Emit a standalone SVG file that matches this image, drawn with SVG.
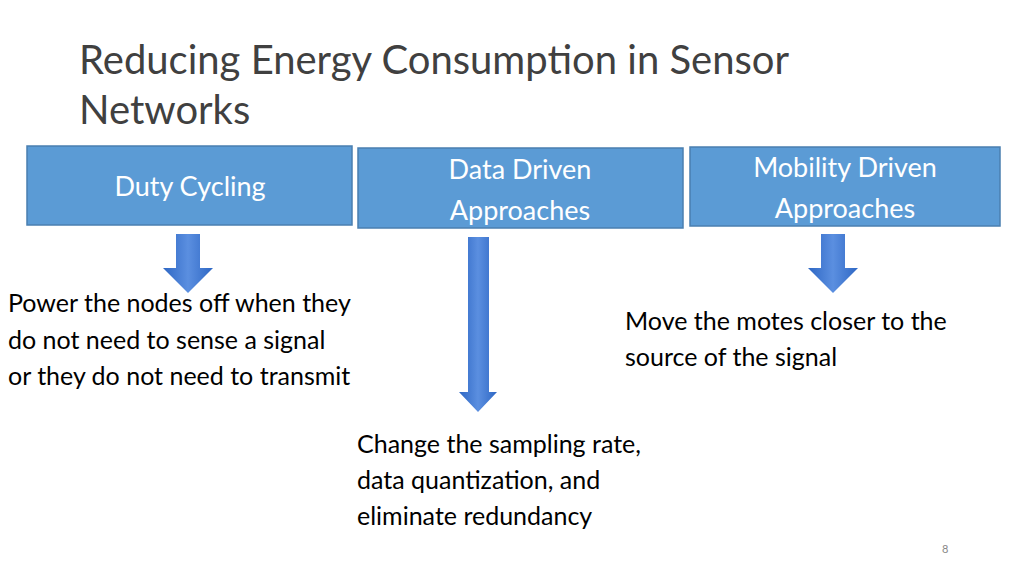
<svg xmlns="http://www.w3.org/2000/svg" width="1024" height="576" viewBox="0 0 1024 576">
<defs>
<style>
.box{fill:#5b9bd5;stroke:#4a7fb0;stroke-width:1.5}
.bt{font-family:Lato,"Open Sans",sans-serif;font-size:27px;fill:#ffffff;text-anchor:middle}
.t{font-family:Lato,"Open Sans",sans-serif;font-size:25px;fill:#000}
.arr{fill:url(#g)}
</style>
<linearGradient id="g" x1="0" y1="0" x2="1" y2="0">
<stop offset="0" stop-color="#2e67c4"/><stop offset="0.5" stop-color="#5b8fe0"/><stop offset="1" stop-color="#2e67c4"/>
</linearGradient>
</defs>
<rect width="1024" height="576" fill="#fff"/>
<text font-family="Lato,'Open Sans',sans-serif" font-size="40" fill="#404040"><tspan x="79" y="74">Reducing Energy Consumption in Sensor</tspan><tspan x="79" y="124">Networks</tspan></text>
<g id="n1"><rect class="box" x="27" y="146" width="325" height="79"/><text class="bt" x="190" y="196">Duty Cycling</text></g>
<g id="n2"><rect class="box" x="358" y="148" width="325" height="80"/><text class="bt" x="520" y="179">Data Driven</text><text class="bt" x="520" y="220">Approaches</text></g>
<g id="n3"><rect class="box" x="690" y="147" width="310" height="79"/><text class="bt" x="845" y="177">Mobility Driven</text><text class="bt" x="845" y="218">Approaches</text></g>
<g id="connectors">
<polygon class="arr" points="176,234 200,234 200,268 213,268 188,293 163,268 176,268"/>
<polygon class="arr" points="468,237 489,237 489,392 497,392 478,412 459,392 468,392"/>
<polygon class="arr" points="821,234 845,234 845,268 858,268 833,293 808,268 821,268"/>
</g>
<text class="t"><tspan x="8" y="312">Power the nodes off when they</tspan><tspan x="8" y="349">do not need to sense a signal</tspan><tspan x="8" y="385">or they do not need to transmit</tspan></text>
<text class="t"><tspan x="625" y="330">Move the motes closer to the</tspan><tspan x="625" y="366">source of the signal</tspan></text>
<text class="t"><tspan x="357" y="453">Change the sampling rate,</tspan><tspan x="357" y="489">data quantization, and</tspan><tspan x="357" y="525">eliminate redundancy</tspan></text>
<text x="942" y="553" font-family="Lato,sans-serif" font-size="11" fill="#888">8</text>
</svg>
